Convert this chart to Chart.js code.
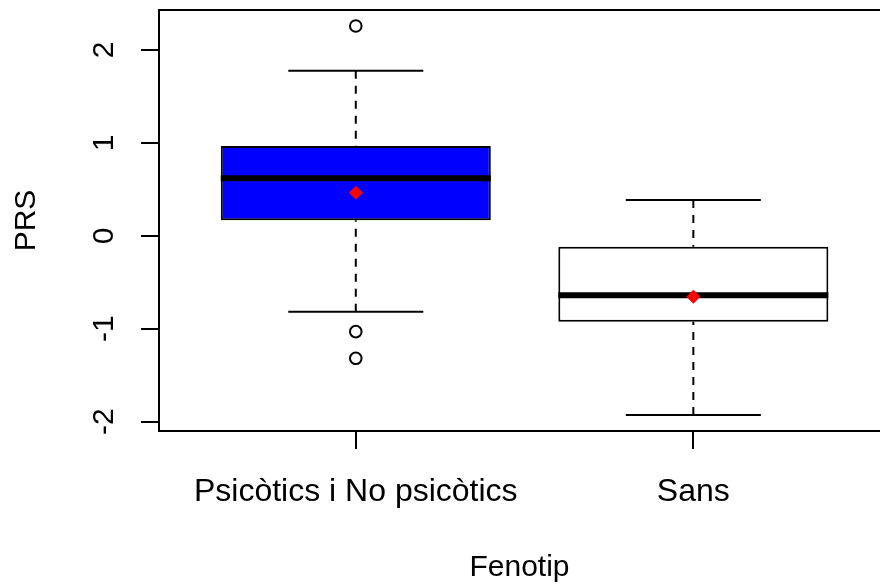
<!DOCTYPE html>
<html><head><meta charset="utf-8">
<script src="https://cdn.jsdelivr.net/npm/chart.js@4.4.1/dist/chart.umd.min.js"></script>
<style>html,body{margin:0;padding:0;background:#fff;overflow:hidden}canvas{display:block}</style>
</head><body>
<canvas id="c" width="880" height="586" style="width:880px;height:586px"></canvas>
<script>
// ---- data ----
const categories = ['Psicòtics i No psicòtics', 'Sans'];
const lowerWhisker = [-0.816, -1.928];
const q1 = [0.167, -0.924];
const median = [0.619, -0.640];
const q3 = [0.967, -0.117];
const upperWhisker = [1.777, 0.386];
const means = [0.464, -0.655];
const outliers = [[2.258, -1.031, -1.318], []];
const boxColors = ['#0000FF', '#FFFFFF'];
const yTicks = [-2, -1, 0, 1, 2];
const xTitle = 'Fenotip';
const yTitle = 'PRS';

const FAMILY = '"Liberation Sans", Arial, sans-serif';
const BOX_HALF = 0.4, STAPLE_HALF = 0.2;
const X_MIN = 0.417, X_VISIBLE_MAX = 2.553, X_FRAME_MAX = 2.577; // R plot region extends past the canvas edge

const datasets = [];
// means (top-most)
datasets.push({
  type: 'line', showLine: false, order: 1,
  data: means.map((m, i) => ({x: i + 1, y: m})),
  pointStyle: 'rectRot', pointRadius: 7, pointBackgroundColor: '#FF0000', pointBorderWidth: 0
});
// outliers
datasets.push({
  type: 'line', showLine: false, order: 2,
  data: outliers.flatMap((arr, i) => arr.map(v => ({x: i + 1, y: v}))),
  pointStyle: 'circle', pointRadius: 5.8, pointBorderWidth: 2,
  pointBorderColor: '#000', pointBackgroundColor: 'rgba(0,0,0,0)'
});
const seg = (pts, width, dash, order) => ({
  type: 'line', data: pts, borderColor: '#000', borderWidth: width,
  borderDash: dash, borderCapStyle: 'butt', pointRadius: 0, fill: false, tension: 0, order
});
categories.forEach((c, i) => {
  const g = i + 1;
  datasets.push(seg([{x: g - BOX_HALF, y: median[i]}, {x: g + BOX_HALF, y: median[i]}], 6, [], 3));
  datasets.push(seg([{x: g - STAPLE_HALF, y: upperWhisker[i]}, {x: g + STAPLE_HALF, y: upperWhisker[i]}], 2, [], 4));
  datasets.push(seg([{x: g - STAPLE_HALF, y: lowerWhisker[i]}, {x: g + STAPLE_HALF, y: lowerWhisker[i]}], 2, [], 4));
  datasets.push(seg([{x: g, y: upperWhisker[i]}, {x: g, y: q3[i]}], 2, [8, 7], 5));
  datasets.push(seg([{x: g, y: lowerWhisker[i]}, {x: g, y: q1[i]}], 2, [8, 7], 5));
});
// boxes (bottom-most)
datasets.push({
  type: 'bar', order: 6,
  data: categories.map((c, i) => ({x: i + 1, y: [q1[i], q3[i]]})),
  backgroundColor: boxColors, borderColor: '#000', borderWidth: 2, borderSkipped: false,
  barPercentage: 0.8, categoryPercentage: 1.0
});

const frame = {
  id: 'frame',
  afterDatasetsDraw(chart) {
    const {ctx, chartArea: a} = chart;
    const right = chart.scales.x.getPixelForValue(X_FRAME_MAX);
    ctx.save();
    ctx.strokeStyle = '#000';
    ctx.lineWidth = 2;
    ctx.strokeRect(a.left, a.top, right - a.left, a.bottom - a.top);
    ctx.restore();
  }
};

new Chart(document.getElementById('c'), {
  type: 'bar',
  data: {datasets},
  plugins: [frame],
  options: {
    responsive: false, animation: false, devicePixelRatio: 1,
    layout: {autoPadding: false, padding: {left: 0, top: 10, right: 0, bottom: 0}},
    plugins: {legend: {display: false}, tooltip: {enabled: false}},
    scales: {
      x: {
        type: 'linear', min: X_MIN, max: X_VISIBLE_MAX, offset: false,
        afterBuildTicks: s => { s.ticks = categories.map((c, i) => ({value: i + 1})); },
        afterFit: s => { s.height = 155; s.paddingLeft = 0; s.paddingRight = 0; },
        ticks: {
          autoSkip: false, minRotation: 0, maxRotation: 0, padding: 24, color: '#000',
          font: {family: FAMILY, size: 32},
          callback: v => categories[Math.round(v) - 1] ?? ''
        },
        grid: {display: true, drawOnChartArea: false, drawTicks: true, tickLength: 18, color: '#000', lineWidth: 2, offset: false},
        border: {display: false},
        title: {display: true, text: xTitle, color: '#000', font: {family: FAMILY, size: 30}, padding: {top: 0, bottom: 0}}
      },
      y: {
        type: 'linear', min: -2.10, max: 2.43,
        afterBuildTicks: s => { s.ticks = yTicks.map(v => ({value: v})); },
        afterFit: s => { s.width = 159; s.paddingTop = 0; s.paddingBottom = 0; },
        ticks: {
          minRotation: 90, maxRotation: 90, crossAlign: 'center', padding: 23, color: '#000',
          font: {family: FAMILY, size: 30},
          callback: v => String(v)
        },
        grid: {display: true, drawOnChartArea: false, drawTicks: true, tickLength: 18, color: '#000', lineWidth: 2},
        border: {display: false},
        title: {display: true, text: yTitle, color: '#000', font: {family: FAMILY, size: 30}, padding: {top: 9, bottom: 0}}
      }
    }
  }
});
</script>
</body></html>
